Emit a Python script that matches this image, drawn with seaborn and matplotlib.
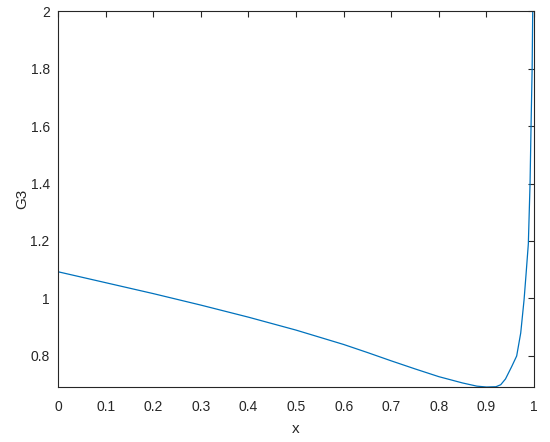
import numpy as np
import pandas as pd
import matplotlib
matplotlib.use("Agg")
import matplotlib.pyplot as plt
import seaborn as sns
from matplotlib.ticker import FormatStrFormatter

# values
x_vals = [0.0, 0.1, 0.2, 0.3, 0.4, 0.5, 0.6, 0.65, 0.7, 0.75, 0.8, 0.85, 0.88,
          0.9, 0.92, 0.93, 0.94, 0.953, 0.9635, 0.972, 0.979, 0.983, 0.988,
          0.9916, 0.9937, 0.996, 0.9975]
g3_vals = [1.093, 1.055, 1.017, 0.977, 0.935, 0.89, 0.84, 0.812, 0.783, 0.755,
           0.728, 0.706, 0.695, 0.692, 0.693, 0.70, 0.72, 0.763, 0.80, 0.88,
           0.995, 1.08, 1.19, 1.4, 1.6, 1.8, 2.05]
x_ticks = [0, 0.1, 0.2, 0.3, 0.4, 0.5, 0.6, 0.7, 0.8, 0.9, 1]
y_ticks = [0.8, 1.0, 1.2, 1.4, 1.6, 1.8, 2.0]

df = pd.DataFrame({"x": x_vals, "G3": g3_vals})

sns.set_style("white")
plt.rcParams["font.family"] = ["Liberation Sans", "DejaVu Sans"]

fig = plt.figure(figsize=(5.5, 4.42), dpi=100)
ax = fig.add_axes([0.1055, 0.1244, 0.8655, 0.8506])

sns.lineplot(data=df, x="x", y="G3", ax=ax, color="#0072BD", linewidth=0.9)

ax.set_xlim(0, 1)
ax.set_ylim(0.692, 2)
ax.set_xticks(x_ticks)
ax.set_yticks(y_ticks)
ax.xaxis.set_major_formatter(FormatStrFormatter("%g"))
ax.yaxis.set_major_formatter(FormatStrFormatter("%g"))

edge = "#262626"
for s in ax.spines.values():
    s.set_visible(True)
    s.set_color(edge)
    s.set_linewidth(0.8)
ax.tick_params(direction="in", length=4, width=0.8, colors=edge,
               labelsize=10, top=True, right=True, labelcolor=edge)
ax.tick_params(axis="x", pad=9)
ax.tick_params(axis="y", pad=6)
ax.set_xlabel("x", fontsize=11, color=edge, labelpad=6)
ax.set_ylabel("G3", fontsize=11, color=edge, labelpad=1)

fig.savefig("out.png", dpi=100)
